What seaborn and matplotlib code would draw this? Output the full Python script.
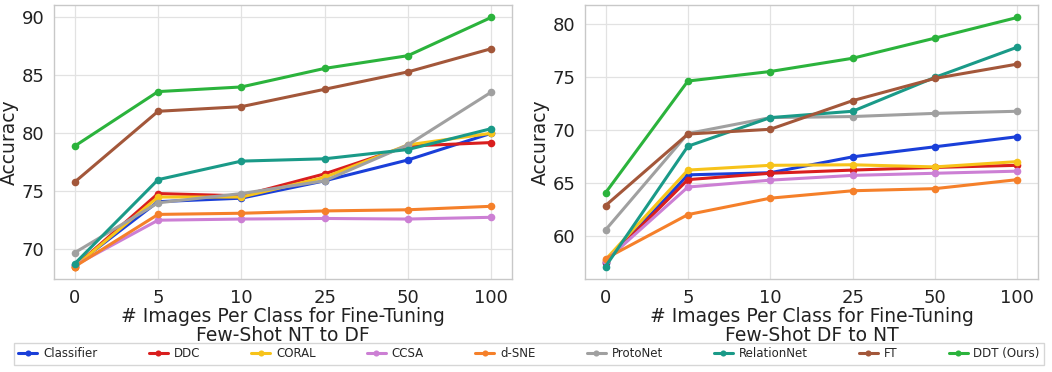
import pandas as pd
import matplotlib
matplotlib.use('Agg')
import matplotlib.pyplot as plt
import seaborn as sns

# Data
shots = ['0', '5', '10', '25', '50', '100']
methods = ['Classifier', 'DDC', 'CORAL', 'CCSA', 'd-SNE', 'ProtoNet',
           'RelationNet', 'FT', 'DDT (Ours)']
colors = ['#1a3fd9', '#d91e1e', '#f7c31a', '#cc7fd4', '#f5802a', '#a0a0a0',
          '#1a9a88', '#a3573a', '#2bb33c']

nt_to_df = {
    'Classifier':  [68.6, 74.1, 74.4, 75.9, 77.7, 80.0],
    'DDC':         [68.5, 74.8, 74.6, 76.5, 78.9, 79.2],
    'CORAL':       [68.5, 74.5, 74.5, 76.2, 79.0, 80.0],
    'CCSA':        [68.6, 72.5, 72.6, 72.65, 72.6, 72.75],
    'd-SNE':       [68.5, 73.0, 73.1, 73.3, 73.4, 73.7],
    'ProtoNet':    [69.7, 74.0, 74.8, 75.9, 79.0, 83.55],
    'RelationNet': [68.75, 76.0, 77.6, 77.8, 78.6, 80.4],
    'FT':          [75.8, 81.9, 82.3, 83.8, 85.3, 87.3],
    'DDT (Ours)':  [78.9, 83.6, 84.0, 85.6, 86.7, 90.0],
}

df_to_nt = {
    'Classifier':  [57.5, 65.8, 66.0, 67.5, 68.45, 69.4],
    'DDC':         [57.6, 65.35, 65.95, 66.25, 66.5, 66.7],
    'CORAL':       [57.8, 66.25, 66.7, 66.75, 66.55, 67.05],
    'CCSA':        [57.7, 64.65, 65.3, 65.75, 65.95, 66.15],
    'd-SNE':       [57.9, 62.05, 63.6, 64.3, 64.5, 65.35],
    'ProtoNet':    [60.6, 69.7, 71.2, 71.3, 71.6, 71.8],
    'RelationNet': [57.15, 68.5, 71.2, 71.8, 75.0, 77.85],
    'FT':          [62.9, 69.65, 70.1, 72.8, 74.9, 76.25],
    'DDT (Ours)':  [64.1, 74.65, 75.55, 76.8, 78.7, 80.65],
}


def to_long(results):
    rows = []
    for m in methods:
        for i, v in enumerate(results[m]):
            rows.append({'pos': i, 'Method': m, 'Accuracy': v})
    return pd.DataFrame(rows)


sns.set_theme(style='whitegrid')
plt.rcParams['font.family'] = ['DejaVu Sans']

fig = plt.figure(figsize=(10.52, 3.72), dpi=100)
ax1 = fig.add_axes([0.0513, 0.25, 0.4354, 0.7366])
ax2 = fig.add_axes([0.556, 0.25, 0.4307, 0.7366])

palette = dict(zip(methods, colors))
for ax, res, title in [(ax1, nt_to_df, 'Few-Shot NT to DF'),
                       (ax2, df_to_nt, 'Few-Shot DF to NT')]:
    sns.lineplot(data=to_long(res), x='pos', y='Accuracy', hue='Method',
                 hue_order=methods, palette=palette, marker='o',
                 markersize=5.5, markeredgewidth=0, linewidth=2.2,
                 ax=ax, legend=(ax is ax1))
    ax.set_xticks(range(len(shots)))
    ax.set_xticklabels(shots)
    ax.set_xlabel('# Images Per Class for Fine-Tuning\n' + title,
                  fontsize=13.5, color='#222222', labelpad=0, linespacing=1.0)
    ax.set_ylabel('Accuracy', fontsize=13.5, color='#222222', labelpad=2)
    ax.tick_params(labelsize=13, colors='#222222', pad=1)
    ax.grid(color='#e2e2e2', linewidth=0.9)
    for s in ax.spines.values():
        s.set_color('#c8c8c8')
        s.set_linewidth(1)

handles, labels = ax1.get_legend_handles_labels()
ax1.get_legend().remove()
fig.legend(handles, labels, loc='lower left', ncol=9, mode='expand',
           bbox_to_anchor=(0.008, 0.004, 0.99, 0.06), fontsize=8.5,
           frameon=True, edgecolor='#cccccc', fancybox=False,
           handlelength=1.6, handletextpad=0.5, borderpad=0.35,
           columnspacing=0.8, markerscale=0.8)

fig.savefig('out.png', dpi=100)
